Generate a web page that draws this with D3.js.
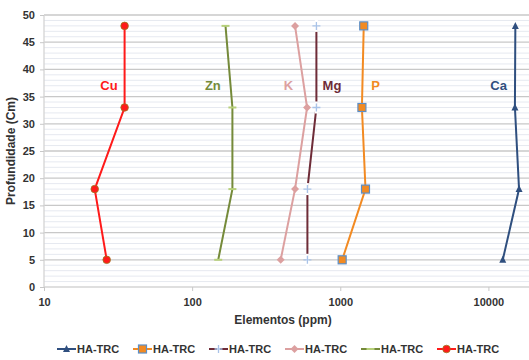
<!DOCTYPE html>
<html>
<head>
<meta charset="utf-8">
<script src="https://cdn.jsdelivr.net/npm/d3@7/dist/d3.min.js"></script>
<style>
  body { margin: 0; background: #fff; }
  text { font-family: "Liberation Sans", Arial, sans-serif; font-weight: bold; }
</style>
</head>
<body>
<svg id="chart" width="529" height="360"></svg>
<script>
const depths = [48, 33, 18, 5];
const caValues = [15200, 15100, 16100, 12500];
const pValues = [1440, 1400, 1480, 1030];
const mgValues = [690, 690, 600, 600];
const kValues = [495, 597, 495, 396];
const znValues = [168, 187, 187, 150];
const cuValues = [35, 35, 22, 26.5];
const xTicks = [10, 100, 1000, 10000];
const yTicks = [0, 5, 10, 15, 20, 25, 30, 35, 40, 45, 50];
const legendLabel = "HA-TRC";

const series = [
  { name: "Ca", values: caValues, color: "#2f4f7f", marker: "triangle", labelX: 10300 },
  { name: "P", values: pValues, color: "#f28a22", marker: "square", labelX: 1620 },
  { name: "Mg", values: mgValues, color: "#6e2c38", marker: "plus", labelX: 760 },
  { name: "K", values: kValues, color: "#dca0a0", marker: "diamond", labelX: 415 },
  { name: "Zn", values: znValues, color: "#758a3a", marker: "dash", labelX: 122 },
  { name: "Cu", values: cuValues, color: "#ff1a1a", marker: "circle", labelX: 24 }
];

const svg = d3.select("#chart");
const x = d3.scaleLog().domain([10, 20000]).range([44, 533]);
const y = d3.scaleLinear().domain([0, 50]).range([287, 15]);

// minor grid
svg.append("g")
  .selectAll("line")
  .data(d3.range(0, 51).filter((d) => d % 5 !== 0))
  .join("line")
  .attr("x1", 44).attr("x2", 529)
  .attr("y1", (d) => y(d)).attr("y2", (d) => y(d))
  .attr("stroke", "#e6e9f0").attr("stroke-width", 1);

// major grid
svg.append("g")
  .selectAll("line")
  .data(yTicks.filter((d) => d > 0))
  .join("line")
  .attr("x1", 44).attr("x2", 529)
  .attr("y1", (d) => y(d)).attr("y2", (d) => y(d))
  .attr("stroke", "#c8c8c8").attr("stroke-width", 1.3);

// axes lines
svg.append("line")
  .attr("x1", 44).attr("x2", 529).attr("y1", y(0)).attr("y2", y(0))
  .attr("stroke", "#d4d4d4").attr("stroke-width", 1.3);
svg.append("line")
  .attr("x1", 44).attr("x2", 44).attr("y1", y(0)).attr("y2", y(50))
  .attr("stroke", "#d4d4d4").attr("stroke-width", 1.3);

// y ticks
const yAxis = svg.append("g")
  .attr("transform", "translate(44,0)")
  .call(d3.axisLeft(y).tickValues(yTicks).tickSize(4).tickPadding(5));
yAxis.select(".domain").remove();
yAxis.selectAll(".tick line").attr("stroke", "#c8c8c8");
yAxis.selectAll(".tick text").attr("fill", "#333").style("font-size", "11px");

// x ticks
const xAxis = svg.append("g")
  .attr("transform", `translate(0,${y(0)})`)
  .call(d3.axisBottom(x).tickValues(xTicks).tickFormat(d3.format("d")).tickSize(4).tickPadding(7));
xAxis.select(".domain").remove();
xAxis.selectAll(".tick line").attr("stroke", "#c8c8c8");
xAxis.selectAll(".tick text").attr("fill", "#333").style("font-size", "11px");

// axis titles
svg.append("text")
  .attr("x", 283).attr("y", 324)
  .attr("text-anchor", "middle")
  .attr("fill", "#333")
  .style("font-size", "12px")
  .text("Elementos (ppm)");
svg.append("text")
  .attr("transform", `translate(15,${y(25)}) rotate(-90)`)
  .attr("text-anchor", "middle")
  .attr("fill", "#333")
  .style("font-size", "12px")
  .text("Profundidade (Cm)");

function drawMarker(g, type, color, cx, cy) {
  if (type === "triangle") {
    g.append("path").attr("d", `M${cx},${cy - 4}L${cx + 3.5},${cy + 3}L${cx - 3.5},${cy + 3}Z`).attr("fill", color);
  } else if (type === "square") {
    g.append("rect").attr("x", cx - 4).attr("y", cy - 4).attr("width", 8).attr("height", 8)
      .attr("fill", color).attr("stroke", "#5b8fc9").attr("stroke-width", 1.2);
  } else if (type === "plus") {
    g.append("rect").attr("x", cx - 1.5).attr("y", cy - 6).attr("width", 3).attr("height", 12).attr("fill", "#fff");
    g.append("path").attr("d", `M${cx - 4},${cy}H${cx + 4}M${cx},${cy - 4}V${cy + 4}`)
      .attr("stroke", "#a9c3e8").attr("stroke-width", 1.3);
  } else if (type === "diamond") {
    g.append("path").attr("d", `M${cx},${cy - 4}L${cx + 4},${cy}L${cx},${cy + 4}L${cx - 4},${cy}Z`).attr("fill", color);
  } else if (type === "dash") {
    g.append("path").attr("d", `M${cx - 4},${cy}H${cx + 4}`).attr("stroke", "#b6d07a").attr("stroke-width", 2);
  } else if (type === "circle") {
    g.append("circle").attr("cx", cx).attr("cy", cy).attr("r", 3.8)
      .attr("fill", color).attr("stroke", "#9a7a20").attr("stroke-width", 0.8);
  }
}

const line = d3.line().x((d) => x(d[0])).y((d) => y(d[1]));

series.forEach((s) => {
  const g = svg.append("g");
  const pts = s.values.map((v, i) => [v, depths[i]]);
  g.append("path")
    .attr("d", line(pts))
    .attr("fill", "none")
    .attr("stroke", s.color)
    .attr("stroke-width", 2);
  pts.forEach((p) => drawMarker(g, s.marker, s.color, x(p[0]), y(p[1])));
  g.append("text")
    .attr("x", x(s.labelX)).attr("y", y(36.3))
    .attr("fill", s.color)
    .style("font-size", "13px")
    .text(s.name);
});

// legend
const legend = svg.append("g").attr("transform", "translate(57,349)");
series.forEach((s, i) => {
  const g = legend.append("g").attr("transform", `translate(${i * 76},0)`);
  g.append("line").attr("x1", 0).attr("x2", 19).attr("y1", 0).attr("y2", 0)
    .attr("stroke", s.color).attr("stroke-width", 2);
  drawMarker(g, s.marker, s.color, 9.5, 0);
  g.append("text").attr("x", 20).attr("y", 4)
    .attr("fill", "#333")
    .style("font-size", "11px")
    .text(legendLabel);
});
</script>
</body>
</html>
